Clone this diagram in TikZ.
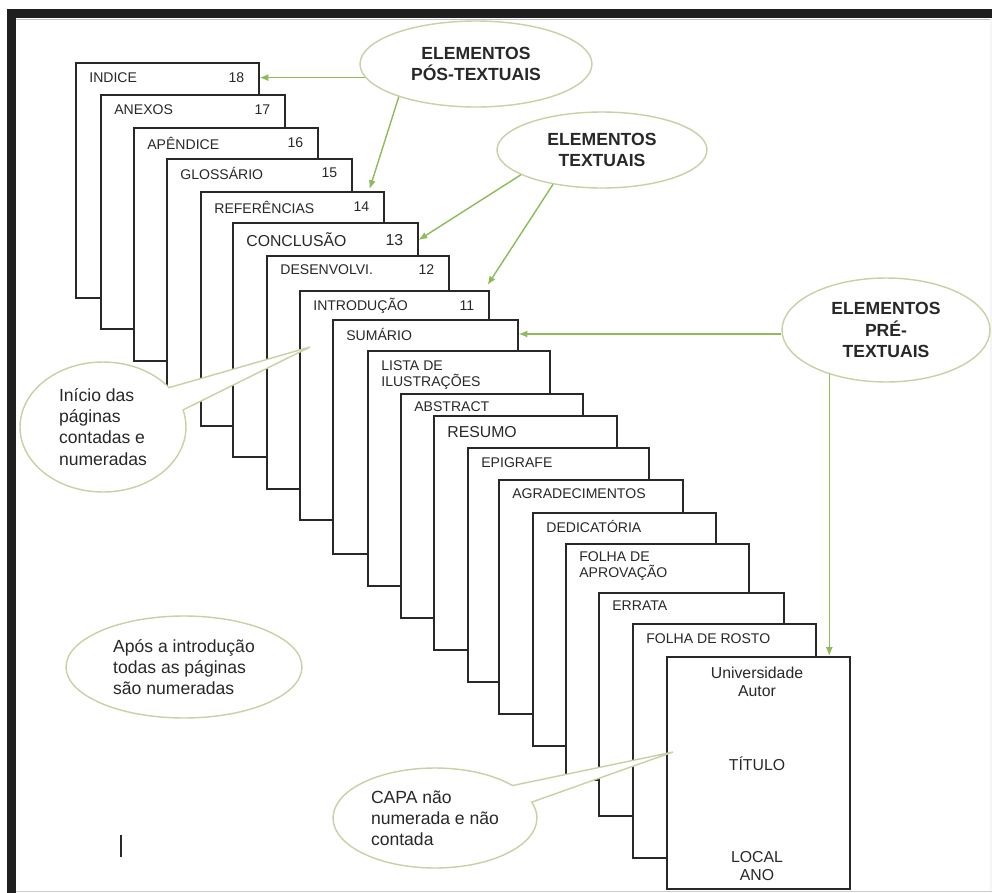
\documentclass[tikz,border=0pt]{standalone}
\usepackage{fontspec}
\setmainfont{Liberation Sans}
\usetikzlibrary{shapes.geometric,shapes.callouts,arrows.meta,calc}
\definecolor{arrowgreen}{RGB}{142,186,90}
\definecolor{bubbleline}{RGB}{200,208,165}
\definecolor{inkgray}{RGB}{40,40,40}
\tikzset{
  page/.style={draw=inkgray, fill=white, line width=0.9pt, anchor=north west, inner sep=0pt},
  lbl/.style={text=inkgray, anchor=west, align=left, inner sep=0pt, font=\fontsize{8}{9}\selectfont},
  bubble/.style={draw=bubbleline, fill=white, line width=0.8pt, ellipse, inner sep=0pt,
    text=inkgray, align=center, font=\bfseries\fontsize{10}{12}\selectfont},
  note/.style={draw=bubbleline, fill=white, line width=0.8pt, inner sep=0pt,
    text=inkgray, align=left, font=\fontsize{10}{12}\selectfont},
  arr/.style={draw=arrowgreen, line width=0.8pt, -{Latex[length=5pt,width=4pt]}},
}
\begin{document}
\begin{tikzpicture}[x=0.02cm, y=-0.02cm]
  \useasboundingbox (0,0) rectangle (992,893);
  % screen frame
  \fill[black!88] (7,9) rectangle (992,18);
  \fill[black!88] (7,9) rectangle (16,893);
  \draw[gray!50, line width=0.6pt] (16,19.5) -- (992,19.5);
  \draw[gray!40, line width=0.6pt] (16,891.5) -- (992,891.5);
  \draw[gray!8, line width=0.6pt] (991,19) -- (991,891);

  % the pages, back to front
  \foreach \n/\l/\t/\r/\b/\ly/\fs/\lab in {
      indice/75/62/258/297/78/8/INDICE,
      anexos/100/94/284/328/110/8/ANEXOS,
      apendice/133/127/317/360/143/8/APÊNDICE,
      glossario/166/158/351/392/173/8/GLOSSÁRIO,
      referencias/200/191/383/425/207/8/REFERÊNCIAS,
      conclusao/232/222/417/456/240/9/CONCLUSÃO,
      desenvolvi/266/255/448/488/270/8/DESENVOLVI.,
      introducao/299/290/488/519/306/8/INTRODUÇÃO,
      sumario/332/319/517/553/334/8/SUMÁRIO,
      lista/367/350/549/585/375/8/{LISTA DE\\ILUSTRAÇÕES},
      abstract/400/393/582/617/407/8/ABSTRACT,
      resumo/433/415/616/649/432/9/RESUMO,
      epigrafe/467/447/648/681/463/8/EPIGRAFE,
      agradecimentos/498/479/682/713/494/8/AGRADECIMENTOS,
      dedicatoria/532/512/715/745/526/8/DEDICATÓRIA,
      aprovacao/565/543/748/779/566/8/{FOLHA DE\\APROVAÇÃO},
      errata/598/592/783/815/606/8/ERRATA,
      rosto/632/623/815/857/639/8/FOLHA DE ROSTO,
      capa/666/656/849/888/0/8/{}} {
    \node[page, minimum width={(\r-\l)*0.02cm}, minimum height={(\b-\t)*0.02cm}]
      (\n) at (\l,\t) {};
    \node[lbl, font=\fontsize{\fs}{9}\selectfont] (l-\n) at ({\l+14},\ly) {\lab};
  }

  % page numbers
  \foreach \n/\num/\fs in {indice/18/8, anexos/17/8, apendice/16/8, glossario/15/8,
      referencias/14/8, conclusao/13/9, desenvolvi/12/8, introducao/11/8}
    \node[lbl, anchor=east, font=\fontsize{\fs}{9}\selectfont] (n-\n)
      at ($(\n.east |- l-\n)+(-15,0)$) {\num};

  % cover
  \node[lbl, anchor=center, align=center, font=\fontsize{9}{10.5}\selectfont] (capa-top)
    at (757,682) {Universidade\\Autor};
  \node[lbl, anchor=center, font=\fontsize{9}{10.5}\selectfont] (capa-titulo)
    at (757,764) {TÍTULO};
  \node[lbl, anchor=center, align=center, font=\fontsize{9}{10.5}\selectfont] (capa-bottom)
    at (757,866) {LOCAL\\ANO};

  % groups
  \node[bubble, minimum width=4.64cm, minimum height=1.72cm] (pos) at (476,64)
    {ELEMENTOS\\PÓS-TEXTUAIS};
  \node[bubble, minimum width=4.2cm, minimum height=1.52cm] (tex) at (602,150)
    {ELEMENTOS\\TEXTUAIS};
  \node[bubble, minimum width=4.16cm, minimum height=2.08cm] (pre) at (886,330)
    {ELEMENTOS\\PRÉ-\\TEXTUAIS};

  \draw[arr] (pos.187) -- (pos.187 -| indice.east);
  \draw[arr] (pos.203) -- ($(referencias.north east)+(-15,-2)$);
  \draw[arr] (tex.197) -- (conclusao.east |- l-conclusao);
  \draw[arr] (tex.215) -- ($(introducao.north east)+(-2,-5)$);
  \draw[arr] (pre.west |- l-sumario) -- (sumario.east |- l-sumario);
  \draw[arr] (pre.218) -- (pre.218 |- capa.north);

  % notes
  \node[note, ellipse callout, minimum width=3.32cm, minimum height=2.6cm,
    callout pointer arc=22,
    callout absolute pointer={($(introducao.north west)+(11,57)$)}] (inicio) at (103,427)
    {Início das\\páginas\\contadas e\\numeradas};
  \node[note, ellipse, minimum width=4.72cm, minimum height=2.04cm] (apos) at (184,667)
    {Após a introdução\\todas as páginas\\são numeradas};
  \node[note, ellipse callout, minimum width=4.08cm, minimum height=2cm,
    callout pointer arc=22,
    callout absolute pointer={($(capa.north west)+(7,96)$)}] (capanota) at (435,818)
    {CAPA não\\numerada e não\\contada};

  \draw[inkgray, line width=1.2pt] (121,835) -- (121,857);
\end{tikzpicture}
\end{document}
